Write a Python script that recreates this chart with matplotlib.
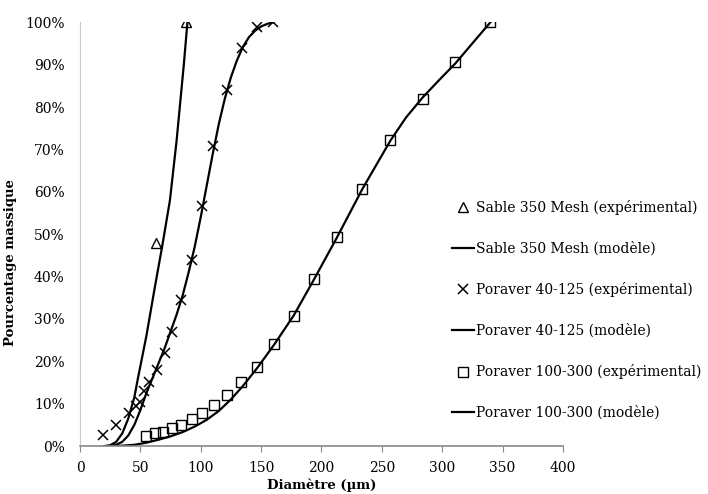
import matplotlib

matplotlib.use("Agg")

import matplotlib.pyplot as plt
from matplotlib.ticker import FuncFormatter

plt.rcParams["font.family"] = ["DejaVu Serif"]

# Sable 350 Mesh
sable_exp_x = [63, 88]
sable_exp_y = [47.8, 100]
sable_mod_x = [20, 25, 30, 35, 40, 45, 48, 55, 62, 68, 74.5, 80, 83, 86, 89]
sable_mod_y = [0, 0.2, 1, 3, 6.5, 11.5, 16, 26, 37.5, 47, 58, 72, 81, 90, 100]

# Poraver 40-125
p40_exp_x = [19, 30, 41, 46, 50, 53, 57, 64, 70, 76, 84, 92.5, 101, 110, 121.5, 134, 146.6, 160]
p40_exp_y = [2.6, 5, 7.8, 9.5, 10.5, 13, 15.2, 18, 22, 27, 34.5, 44, 56.6, 70.8, 84, 93.9, 98.8, 100]
p40_mod_x = [25, 30, 35, 40, 45, 50, 55, 60, 65, 70, 75, 80, 85, 90, 95, 100, 105,
             110, 115, 120, 125, 130, 135, 140, 145, 150, 155, 160]
p40_mod_y = [0, 0.3, 1, 2.5, 5, 8.5, 12.5, 16, 19.5, 23, 27, 31, 35.5, 41, 47, 54, 61.5,
             69, 76, 82, 87, 91, 94.2, 96.5, 98, 99, 99.6, 100]

# Poraver 100-300
p100_exp_x = [55, 62, 69, 76, 84, 92.5, 101, 111, 122, 133, 147, 161, 177, 194, 213, 234, 257, 284, 311, 340]
p100_exp_y = [2.4, 3, 3.4, 4.2, 5, 6.4, 7.8, 9.8, 12, 15.2, 18.7, 24.1, 30.7, 39.4, 49.3, 60.7, 72.3, 82, 90.5, 100]
p100_mod_x = [30, 45, 55, 65, 75, 85, 95, 105, 115, 125, 135, 147, 161, 177, 194, 213,
              234, 257, 270, 284, 298, 311, 325, 340]
p100_mod_y = [0, 0.3, 0.8, 1.5, 2.3, 3.3, 4.6, 6.2, 8.3, 11, 14.2, 18.5, 24, 30.8, 39.4, 49.3,
              60.7, 72, 77.5, 82.3, 86.5, 90.3, 95, 100]

x_ticks = [0, 50, 100, 150, 200, 250, 300, 350, 400]
y_ticks = [0, 10, 20, 30, 40, 50, 60, 70, 80, 90, 100]

fig = plt.figure(figsize=(7.08, 4.94), dpi=100)
ax = fig.add_axes([0.113, 0.097, 0.682, 0.858])

lw = 1.6
ax.plot(sable_exp_x, sable_exp_y, linestyle="none", marker="^", markersize=7,
        markerfacecolor="none", markeredgecolor="black", markeredgewidth=1.0,
        label="Sable 350 Mesh (expérimental)")
ax.plot(sable_mod_x, sable_mod_y, color="black", linewidth=lw, label="Sable 350 Mesh (modèle)")
ax.plot(p40_exp_x, p40_exp_y, linestyle="none", marker="x", markersize=7,
        color="black", markeredgewidth=1.1, label="Poraver 40-125 (expérimental)")
ax.plot(p40_mod_x, p40_mod_y, color="black", linewidth=lw, label="Poraver 40-125 (modèle)")
ax.plot(p100_exp_x, p100_exp_y, linestyle="none", marker="s", markersize=6.5,
        markerfacecolor="none", markeredgecolor="black", markeredgewidth=1.0,
        label="Poraver 100-300 (expérimental)")
ax.plot(p100_mod_x, p100_mod_y, color="black", linewidth=lw, label="Poraver 100-300 (modèle)")

ax.set_xlim(0, 400)
ax.set_ylim(0, 100)
ax.set_xticks(x_ticks)
ax.set_yticks(y_ticks)
ax.yaxis.set_major_formatter(FuncFormatter(lambda v, _: f"{v:.0f}%"))
ax.tick_params(axis="x", direction="out", length=4, color="#888888", labelsize=10, pad=7)
ax.tick_params(axis="y", length=0, labelsize=10, pad=11)

for side in ["top", "right"]:
    ax.spines[side].set_visible(False)
ax.spines["left"].set_color("#c8c8c8")
ax.spines["bottom"].set_color("#888888")
ax.spines["bottom"].set_linewidth(1.2)

ax.set_xlabel("Diamètre (µm)", fontsize=9.5, fontweight="bold", labelpad=2)
ax.set_ylabel("Pourcentage massique", fontsize=9.5, fontweight="bold")
ax.yaxis.set_label_coords(-0.13, 0.434)

fig.legend(loc="upper left", bbox_to_anchor=(0.621, 0.62), frameon=False,
           fontsize=10, labelspacing=1.9, handlelength=1.6, handletextpad=0.15)

fig.savefig("out.png", dpi=100)
